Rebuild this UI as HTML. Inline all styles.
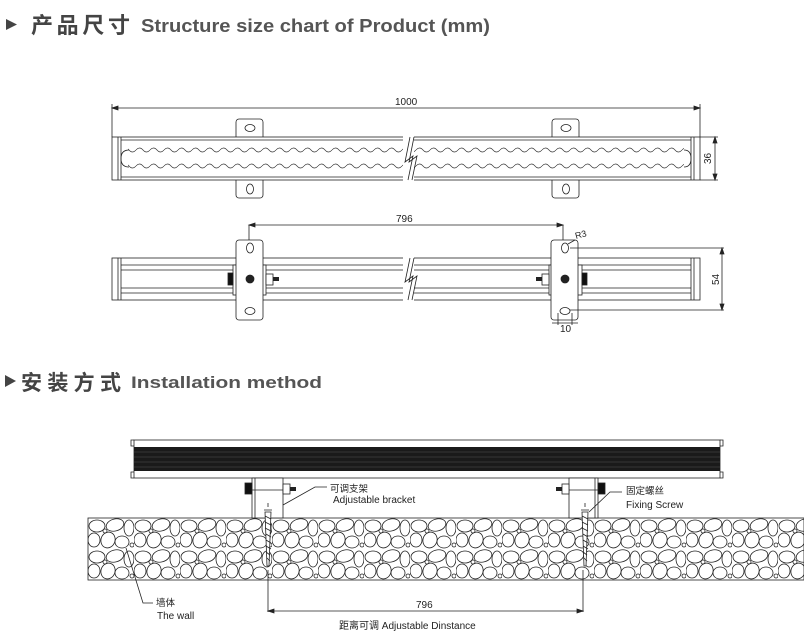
<!DOCTYPE html>
<html><head><meta charset="utf-8"><style>
body{margin:0;background:#fff;}
svg{display:block;}
</style></head><body>
<svg width="804" height="640" viewBox="0 0 804 640" xmlns="http://www.w3.org/2000/svg" font-family="Liberation Sans, Noto Sans CJK SC, sans-serif">
<defs>
<pattern id="wt" x="122" y="146" width="14" height="8" patternUnits="userSpaceOnUse">
<path d="M0,4 Q3.5,0 7,4 Q10.5,8 14,4" fill="none" stroke="#333" stroke-width="0.7"/>
</pattern>
<pattern id="stone" x="88" y="518" width="46" height="31" patternUnits="userSpaceOnUse">
<rect width="46" height="31" fill="#fff"/>
<g fill="none" stroke="#222" stroke-width="0.8">
<ellipse cx="9" cy="8" rx="8" ry="6"/>
<ellipse cx="27" cy="7" rx="9" ry="6" transform="rotate(-15 27 7)"/>
<ellipse cx="41" cy="10" rx="5" ry="8"/>
<ellipse cx="6" cy="22" rx="6" ry="7"/>
<ellipse cx="20" cy="22" rx="7" ry="8" transform="rotate(20 20 22)"/>
<ellipse cx="34" cy="24" rx="7" ry="6"/>
<circle cx="17" cy="13" r="2"/>
<circle cx="44" cy="27" r="2"/>
</g>
</pattern>
</defs>
<!-- title 1 -->
<polygon points="6,19 6,30 17,24.5" fill="#444"/>
<text x="31" y="33" font-size="22" font-weight="bold" fill="#444" font-family="Noto Sans CJK SC, sans-serif" textLength="99" lengthAdjust="spacing">产品尺寸</text>
<text x="141" y="32" font-size="18" font-weight="bold" fill="#555" textLength="349" lengthAdjust="spacingAndGlyphs">Structure size chart of Product (mm)</text>

<g stroke="#222" fill="none" stroke-width="0.8">
<!-- top view -->
<line x1="112" y1="108" x2="700" y2="108"/>
<line x1="112" y1="104" x2="112" y2="137"/>
<line x1="700" y1="104" x2="700" y2="137"/>
<path d="M112,108 l6,-2 v4z M700,108 l-6,-2 v4z" fill="#222"/>
<rect x="236" y="119" width="27" height="22" rx="3" fill="#fff"/>
<rect x="552" y="119" width="27" height="22" rx="3" fill="#fff"/>
<rect x="236" y="176" width="27" height="22" rx="3" fill="#fff"/>
<rect x="552" y="176" width="27" height="22" rx="3" fill="#fff"/>
<ellipse cx="250" cy="128" rx="5" ry="3.5"/>
<ellipse cx="566" cy="128" rx="5" ry="3.5"/>
<ellipse cx="250" cy="189" rx="3.5" ry="5"/>
<ellipse cx="566" cy="189" rx="3.5" ry="5"/>
<rect x="112" y="137" width="588" height="43" fill="#fff"/>
<line x1="118" y1="137" x2="118" y2="180"/><line x1="121" y1="137" x2="121" y2="180"/>
<line x1="694" y1="137" x2="694" y2="180"/><line x1="691" y1="137" x2="691" y2="180"/>
<line x1="121" y1="140" x2="691" y2="140"/><line x1="121" y1="177" x2="691" y2="177"/>
<rect x="128" y="146" width="556" height="8" fill="url(#wt)" stroke="none"/>
<rect x="128" y="163" width="556" height="8" fill="url(#wt)" stroke="none"/>
<path d="M129,150 Q121,150 121,158.5 Q121,167 129,167"/>
<path d="M684,150 Q691,150 691,158.5 Q691,167 684,167"/>
<rect x="403" y="136" width="11" height="46" fill="#fff" stroke="none"/>
<path d="M410,137 L405,162 L413,156 L408,180"/>
<path d="M414,137 L409,162 L417,156 L412,180"/>
<line x1="700" y1="137" x2="718" y2="137"/><line x1="700" y1="180" x2="718" y2="180"/>
<line x1="715" y1="137" x2="715" y2="180"/>
<path d="M715,137 l-2,6 h4z M715,180 l-2,-6 h4z" fill="#222"/>

<!-- side view -->
<line x1="249" y1="225" x2="563" y2="225"/>
<line x1="249" y1="225" x2="249" y2="240"/><line x1="563" y1="225" x2="563" y2="240"/>
<path d="M249,225 l6,-2 v4z M563,225 l-6,-2 v4z" fill="#222"/>
<rect x="112" y="258" width="588" height="42" fill="#fff"/>
<line x1="118" y1="258" x2="118" y2="300"/><line x1="121" y1="258" x2="121" y2="300"/>
<line x1="694" y1="258" x2="694" y2="300"/><line x1="691" y1="258" x2="691" y2="300"/>
<line x1="121" y1="265" x2="691" y2="265"/><line x1="121" y1="270" x2="691" y2="270"/>
<line x1="121" y1="288" x2="691" y2="288"/><line x1="121" y1="293" x2="691" y2="293"/>
<rect x="403" y="256" width="11" height="46" fill="#fff" stroke="none"/>
<path d="M410,258 L405,282 L413,276 L408,300"/>
<path d="M414,258 L409,282 L417,276 L412,300"/>
<rect x="233" y="265" width="33" height="30" fill="#fff"/>
<rect x="549" y="265" width="33" height="30" fill="#fff"/>
<rect x="236" y="240" width="27" height="80" rx="3" fill="#fff"/>
<rect x="551" y="240" width="27" height="80" rx="3" fill="#fff"/>
<ellipse cx="250" cy="248" rx="3.5" ry="5"/><ellipse cx="250" cy="311" rx="5" ry="3.5"/>
<ellipse cx="565" cy="248" rx="3.5" ry="5"/><ellipse cx="565" cy="311" rx="5" ry="3.5"/>
<circle cx="250" cy="279" r="4" fill="#222"/><circle cx="565" cy="279" r="4" fill="#222"/>
<rect x="228" y="273" width="5" height="12" fill="#111"/>
<rect x="266" y="274" width="7" height="11" fill="#fff"/><line x1="273" y1="279" x2="279" y2="279" stroke-width="4"/>
<rect x="582" y="273" width="5" height="12" fill="#111"/>
<rect x="542" y="274" width="7" height="11" fill="#fff"/><line x1="536" y1="279" x2="542" y2="279" stroke-width="4"/>
<line x1="568" y1="244" x2="575" y2="240"/>
<line x1="570" y1="248" x2="724" y2="248"/><line x1="570" y1="310" x2="724" y2="310"/>
<line x1="722" y1="248" x2="722" y2="310"/>
<path d="M722,248 l-2,6 h4z M722,310 l-2,-6 h4z" fill="#222"/>
<line x1="558" y1="313" x2="558" y2="325"/><line x1="572" y1="313" x2="572" y2="325"/>
<line x1="552" y1="323" x2="578" y2="323"/>

<!-- install -->
<rect x="88" y="518" width="716" height="62" fill="url(#stone)"/>
<rect x="134" y="440" width="586" height="38" fill="#fff"/>
<rect x="134" y="447" width="586" height="24" fill="#1a1a1a" stroke="none"/>
<g stroke="#555" stroke-width="0.5"><line x1="134" y1="452" x2="720" y2="452"/><line x1="134" y1="457" x2="720" y2="457"/><line x1="134" y1="462" x2="720" y2="462"/><line x1="134" y1="467" x2="720" y2="467"/></g>
<path d="M134,440 h-3 v6 h3 M134,478 h-3 v-6 h3 M720,440 h3 v6 h-3 M720,478 h3 v-6 h-3"/>
<rect x="252" y="478" width="31" height="40" fill="#fff"/>
<line x1="252" y1="490" x2="283" y2="490"/><line x1="255" y1="478" x2="255" y2="518"/>
<rect x="569" y="478" width="29" height="40" fill="#fff"/>
<line x1="569" y1="490" x2="598" y2="490"/><line x1="595" y1="478" x2="595" y2="518"/>
<rect x="245" y="483" width="7" height="11" fill="#111"/>
<rect x="283" y="484" width="7" height="10" fill="#fff"/><line x1="290" y1="489" x2="296" y2="489" stroke-width="4"/>
<rect x="598" y="483" width="7" height="11" fill="#111"/>
<rect x="562" y="484" width="7" height="10" fill="#fff"/><line x1="556" y1="489" x2="562" y2="489" stroke-width="4"/>
<path d="M264,510 h8 M268,503 v4 M265,512 L267,566 h2 L271,512z" fill="#fff"/>
<path d="M265,516 l6,3 M265,522 l6,3 M265,528 l6,3 M266,534 l5,3 M266,540 l5,3 M266,546 l5,3 M266,552 l4,3 M267,558 l3,3" />
<path d="M581,510 h8 M585,503 v4 M582,512 L584,566 h2 L588,512z" fill="#fff"/>
<path d="M582,516 l6,3 M582,522 l6,3 M582,528 l6,3 M583,534 l5,3 M583,540 l5,3 M583,546 l5,3 M583,552 l4,3 M584,558 l3,3" />
<line x1="268" y1="570" x2="268" y2="612"/><line x1="583" y1="570" x2="583" y2="612"/>
<line x1="268" y1="611" x2="583" y2="611"/>
<path d="M268,611 l6,-2 v4z M583,611 l-6,-2 v4z" fill="#222"/>
<path d="M283,505 L315,487 h12"/>
<path d="M589,512 L610,492 h12"/>
<path d="M126,548 L143,603 h10"/>
</g>
<g font-size="10" fill="#222">
<text x="395" y="105">1000</text>
<text transform="translate(711,164) rotate(-90)">36</text>
<text x="396" y="222">796</text>
<text x="576" y="239" font-size="9" transform="rotate(-15 576 239)">R3</text>
<text transform="translate(719,285) rotate(-90)">54</text>
<text x="560" y="332">10</text>
<text x="330" y="492" font-size="9.5">可调支架</text>
<text x="333" y="503">Adjustable bracket</text>
<text x="626" y="494" font-size="9.5">固定螺丝</text>
<text x="626" y="508">Fixing Screw</text>
<text x="156" y="606" font-size="9.5">墙体</text>
<text x="157" y="619">The wall</text>
<text x="416" y="608">796</text>
<text x="339" y="629">距离可调  Adjustable Dinstance</text>
</g>
<!-- title 2 -->
<polygon points="5,375 5,387 16,381" fill="#444"/>
<text x="21" y="390" font-size="21" font-weight="bold" fill="#444" font-family="Noto Sans CJK SC, sans-serif" textLength="100" lengthAdjust="spacing">安装方式</text>
<text x="131" y="388" font-size="17" font-weight="bold" fill="#555" textLength="191" lengthAdjust="spacingAndGlyphs">Installation method</text>
</svg>
</body></html>
